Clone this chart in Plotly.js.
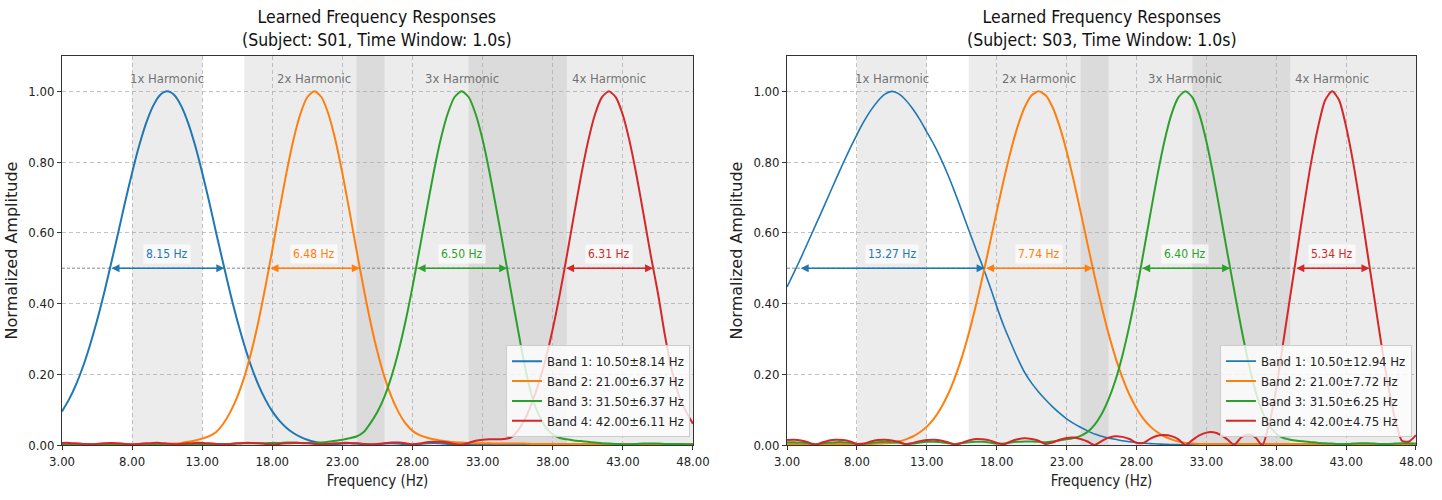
<!DOCTYPE html>
<html>
<head>
<meta charset="utf-8">
<script src="https://cdn.plot.ly/plotly-3.0.1.min.js"></script>
<style>
  html, body { margin: 0; padding: 0; background: #ffffff; }
  #chart { width: 1442px; height: 500px; }
</style>
</head>
<body>
<div id="chart"></div>
<script>
// frequency grid (Hz)
const freq = [
  3, 3.5, 4, 4.5, 5, 5.5, 6, 6.5, 7, 7.5,
  8, 8.5, 9, 9.5, 10, 10.5, 11, 11.5, 12, 12.5,
  13, 13.5, 14, 14.5, 15, 15.5, 16, 16.5, 17, 17.5,
  18, 18.5, 19, 19.5, 20, 20.5, 21, 21.5, 22, 22.5,
  23, 23.5, 24, 24.5, 25, 25.5, 26, 26.5, 27, 27.5,
  28, 28.5, 29, 29.5, 30, 30.5, 31, 31.5, 32, 32.5,
  33, 33.5, 34, 34.5, 35, 35.5, 36, 36.5, 37, 37.5,
  38, 38.5, 39, 39.5, 40, 40.5, 41, 41.5, 42, 42.5,
  43, 43.5, 44, 44.5, 45, 45.5, 46, 46.5, 47, 47.5,
  48,
];

const bandColors = ["#1f77b4", "#ff7f0e", "#2ca02c", "#d62728"];
const bandCenters = [10.5, 21.0, 31.5, 42.0];
const harmonicLabels = ["1x Harmonic", "2x Harmonic", "3x Harmonic", "4x Harmonic"];
const harmonicHalfWidths = [2.5, 5.0, 7.5, 10.0];
const xTicks = [3, 8, 13, 18, 23, 28, 33, 38, 43, 48];
const yTicks = [0, 0.2, 0.4, 0.6, 0.8, 1.0];

// Subject S01
const s01Band1 = [
  0.095, 0.129, 0.171, 0.222, 0.283, 0.352, 0.429, 0.513, 0.599, 0.687,
  0.770, 0.846, 0.910, 0.959, 0.990, 1.000, 0.990, 0.959, 0.910, 0.846,
  0.770, 0.687, 0.599, 0.513, 0.429, 0.352, 0.283, 0.222, 0.171, 0.129,
  0.095, 0.069, 0.049, 0.034, 0.023, 0.015, 0.009, 0.005, 0.003, 0.003,
  0.004, 0.005, 0.004, 0.003, 0.001, 0.002, 0.004, 0.005, 0.004, 0.002,
  0.001, 0.003, 0.005, 0.006, 0.005, 0.003, 0.001, 0.002, 0.003, 0.003,
  0.002, 0.001, 0.002, 0.003, 0.003, 0.002, 0.001, 0.002, 0.003, 0.003,
  0.002, 0.001, 0.002, 0.002, 0.002, 0.001, 0.001, 0.002, 0.002, 0.002,
  0.001, 0.001, 0.002, 0.002, 0.002, 0.001, 0.001, 0.002, 0.002, 0.001,
  0.001,
];
const s01Band2 = [
  0.002, 0.003, 0.003, 0.002, 0.001, 0.001, 0.002, 0.003, 0.003, 0.002,
  0.001, 0.002, 0.003, 0.003, 0.003, 0.003, 0.004, 0.006, 0.009, 0.013,
  0.018, 0.025, 0.037, 0.060, 0.093, 0.136, 0.192, 0.263, 0.348, 0.446,
  0.552, 0.662, 0.768, 0.862, 0.936, 0.984, 1.000, 0.984, 0.936, 0.862,
  0.768, 0.662, 0.552, 0.446, 0.348, 0.263, 0.192, 0.136, 0.093, 0.061,
  0.040, 0.028, 0.021, 0.016, 0.013, 0.010, 0.008, 0.007, 0.006, 0.005,
  0.005, 0.005, 0.004, 0.004, 0.004, 0.004, 0.004, 0.003, 0.003, 0.003,
  0.003, 0.003, 0.003, 0.003, 0.003, 0.003, 0.003, 0.003, 0.003, 0.003,
  0.003, 0.003, 0.003, 0.003, 0.003, 0.003, 0.003, 0.003, 0.003, 0.003,
  0.003,
];
const s01Band3 = [
  0.001, 0.001, 0.002, 0.002, 0.002, 0.001, 0.001, 0.002, 0.002, 0.002,
  0.001, 0.001, 0.002, 0.002, 0.002, 0.001, 0.001, 0.002, 0.003, 0.003,
  0.003, 0.002, 0.002, 0.003, 0.003, 0.004, 0.005, 0.005, 0.005, 0.005,
  0.006, 0.006, 0.007, 0.007, 0.006, 0.006, 0.006, 0.007, 0.009, 0.012,
  0.015, 0.019, 0.024, 0.036, 0.062, 0.094, 0.137, 0.194, 0.265, 0.350,
  0.448, 0.554, 0.663, 0.769, 0.863, 0.936, 0.984, 1.000, 0.984, 0.936,
  0.863, 0.769, 0.663, 0.554, 0.440, 0.330, 0.225, 0.140, 0.085, 0.050,
  0.030, 0.020, 0.016, 0.013, 0.011, 0.009, 0.007, 0.005, 0.004, 0.003,
  0.002, 0.002, 0.003, 0.004, 0.004, 0.004, 0.003, 0.003, 0.003, 0.002,
  0.002,
];
const s01Band4 = [
  0.006, 0.006, 0.005, 0.003, 0.002, 0.003, 0.005, 0.006, 0.005, 0.003,
  0.002, 0.003, 0.005, 0.006, 0.006, 0.004, 0.002, 0.003, 0.005, 0.006,
  0.006, 0.005, 0.003, 0.002, 0.003, 0.005, 0.006, 0.006, 0.005, 0.003,
  0.002, 0.003, 0.005, 0.006, 0.006, 0.005, 0.003, 0.002, 0.003, 0.005,
  0.006, 0.006, 0.005, 0.003, 0.002, 0.003, 0.005, 0.007, 0.007, 0.005,
  0.002, 0.004, 0.008, 0.009, 0.009, 0.007, 0.003, 0.001, 0.006, 0.012,
  0.015, 0.016, 0.016, 0.017, 0.021, 0.040, 0.072, 0.118, 0.175, 0.244,
  0.328, 0.426, 0.534, 0.647, 0.757, 0.855, 0.933, 0.983, 1.000, 0.983,
  0.933, 0.855, 0.757, 0.647, 0.534, 0.430, 0.310, 0.210, 0.140, 0.095,
  0.060,
];
const s01Sigma = [8.14, 6.37, 6.37, 6.11];
const s01Fwhm = [8.15, 6.48, 6.50, 6.31];

// Subject S03
const s03Band1 = [
  0.447, 0.488, 0.530, 0.574, 0.618, 0.662, 0.707, 0.752, 0.796, 0.838,
  0.878, 0.915, 0.947, 0.973, 0.992, 1.000, 0.993, 0.975, 0.950, 0.920,
  0.885, 0.850, 0.810, 0.765, 0.715, 0.662, 0.608, 0.555, 0.505, 0.450,
  0.392, 0.337, 0.290, 0.245, 0.205, 0.175, 0.150, 0.128, 0.108, 0.090,
  0.074, 0.061, 0.050, 0.040, 0.031, 0.025, 0.020, 0.016, 0.012, 0.009,
  0.007, 0.005, 0.004, 0.003, 0.002, 0.001, 0.001, 0.000, 0.001, 0.001,
  0.001, 0.001, 0.001, 0.001, 0.001, 0.001, 0.001, 0.001, 0.001, 0.001,
  0.001, 0.001, 0.001, 0.001, 0.001, 0.001, 0.001, 0.001, 0.001, 0.001,
  0.001, 0.001, 0.001, 0.001, 0.001, 0.001, 0.001, 0.001, 0.001, 0.001,
  0.001,
];
const s03Band2 = [
  0.003, 0.003, 0.002, 0.002, 0.001, 0.002, 0.003, 0.003, 0.003, 0.002,
  0.001, 0.002, 0.003, 0.004, 0.005, 0.006, 0.010, 0.016, 0.024, 0.036,
  0.052, 0.074, 0.104, 0.142, 0.190, 0.247, 0.315, 0.393, 0.478, 0.568,
  0.660, 0.749, 0.831, 0.901, 0.955, 0.989, 1.000, 0.989, 0.955, 0.901,
  0.831, 0.749, 0.660, 0.568, 0.478, 0.393, 0.315, 0.247, 0.190, 0.142,
  0.104, 0.074, 0.052, 0.036, 0.024, 0.016, 0.010, 0.006, 0.004, 0.003,
  0.003, 0.003, 0.003, 0.003, 0.003, 0.003, 0.003, 0.003, 0.003, 0.003,
  0.003, 0.003, 0.003, 0.003, 0.003, 0.003, 0.003, 0.003, 0.003, 0.003,
  0.003, 0.003, 0.003, 0.003, 0.003, 0.003, 0.003, 0.003, 0.003, 0.003,
  0.003,
];
const s03Band3 = [
  0.008, 0.008, 0.007, 0.005, 0.003, 0.004, 0.007, 0.008, 0.008, 0.006,
  0.003, 0.003, 0.006, 0.008, 0.009, 0.008, 0.006, 0.003, 0.004, 0.007,
  0.009, 0.009, 0.008, 0.005, 0.003, 0.005, 0.008, 0.009, 0.009, 0.007,
  0.004, 0.004, 0.007, 0.009, 0.010, 0.010, 0.009, 0.008, 0.010, 0.013,
  0.016, 0.020, 0.026, 0.037, 0.057, 0.087, 0.129, 0.184, 0.254, 0.339,
  0.436, 0.544, 0.655, 0.763, 0.859, 0.935, 0.983, 1.000, 0.983, 0.935,
  0.859, 0.763, 0.655, 0.544, 0.436, 0.330, 0.235, 0.155, 0.095, 0.055,
  0.032, 0.020, 0.015, 0.012, 0.010, 0.008, 0.006, 0.005, 0.004, 0.003,
  0.003, 0.004, 0.005, 0.005, 0.004, 0.003, 0.003, 0.004, 0.005, 0.005,
  0.004,
];
const s03Band4 = [
  0.014, 0.015, 0.013, 0.008, 0.000, 0.007, 0.013, 0.015, 0.014, 0.010,
  0.003, 0.004, 0.010, 0.014, 0.015, 0.013, 0.009, 0.002, 0.006, 0.011,
  0.014, 0.015, 0.013, 0.008, 0.001, 0.006, 0.013, 0.017, 0.016, 0.013,
  0.006, 0.002, 0.010, 0.016, 0.019, 0.017, 0.012, 0.003, 0.007, 0.015,
  0.020, 0.021, 0.017, 0.010, 0.000, 0.011, 0.021, 0.025, 0.023, 0.017,
  0.006, 0.006, 0.018, 0.026, 0.028, 0.025, 0.016, 0.000, 0.014, 0.027,
  0.035, 0.036, 0.029, 0.016, 0.001, 0.022, 0.030, 0.022, 0.000, 0.060,
  0.160, 0.290, 0.420, 0.550, 0.680, 0.800, 0.900, 0.975, 1.000, 0.975,
  0.900, 0.800, 0.680, 0.550, 0.420, 0.290, 0.170, 0.075, 0.012, 0.010,
  0.028,
];
const s03Sigma = [12.94, 7.72, 6.25, 4.75];
const s03Fwhm = [13.27, 7.74, 6.40, 5.34];

const FONT = "DejaVu Sans Condensed, Liberation Sans Narrow, DejaVu Sans, sans-serif";
const X_MAX = 48;

const panels = [
  { subject: "S01", bands: [s01Band1, s01Band2, s01Band3, s01Band4], sigma: s01Sigma, fwhm: s01Fwhm, widths: [2, 2, 2, 2] },
  { subject: "S03", bands: [s03Band1, s03Band2, s03Band3, s03Band4], sigma: s03Sigma, fwhm: s03Fwhm, widths: [1.6, 2, 2, 2] },
];

const traces = [];
const shapes = [];
const annotations = [];

panels.forEach((p, i) => {
  const xa = i === 0 ? "x" : "x2";
  const ya = i === 0 ? "y" : "y2";

  // harmonic spans
  bandCenters.forEach((c, k) => {
    shapes.push({
      type: "rect", layer: "below", xref: xa, yref: ya + " domain",
      x0: c - harmonicHalfWidths[k], x1: Math.min(c + harmonicHalfWidths[k], X_MAX),
      y0: 0, y1: 1,
      fillcolor: "rgba(128,128,128,0.15)", line: { width: 0 },
    });
    annotations.push({
      xref: xa, yref: ya, x: c, y: 1.035, text: harmonicLabels[k], showarrow: false,
      font: { family: FONT, size: 13, color: "rgba(90,90,90,0.85)" },
    });
  });

  shapes.push({
    type: "line", layer: "above", xref: xa + " domain", yref: ya, x0: 0, x1: 1, y0: 0.5, y1: 0.5,
    line: { color: "rgba(100,100,100,0.8)", width: 1, dash: "3px,2px" },
  });

  p.bands.forEach((vals, k) => {
    traces.push({
      x: freq, y: vals, type: "scatter", mode: "lines",
      name: `Band ${k + 1}: ${bandCenters[k].toFixed(2)}±${p.sigma[k].toFixed(2)} Hz`,
      line: { color: bandColors[k], width: p.widths[k], shape: "spline", smoothing: 0.7 },
      xaxis: xa, yaxis: ya, legend: i === 0 ? "legend" : "legend2",
      hoverinfo: "skip",
    });
    const half = p.fwhm[k] / 2;
    annotations.push({
      xref: xa, yref: ya, axref: xa, ayref: ya,
      x: bandCenters[k] + half, y: 0.5, ax: bandCenters[k] - half, ay: 0.5,
      text: "", showarrow: true, arrowside: "end+start",
      arrowhead: 2, startarrowhead: 2, arrowsize: 1, startarrowsize: 1,
      arrowwidth: 1.6, arrowcolor: bandColors[k],
    });
    annotations.push({
      xref: xa, yref: ya, x: bandCenters[k], y: 0.5, yshift: 14,
      text: `${p.fwhm[k].toFixed(2)} Hz`, showarrow: false,
      bgcolor: "rgba(255,255,255,0.7)", borderpad: 2,
      font: { family: FONT, size: 12, color: bandColors[k] },
    });
  });

  annotations.push({
    xref: xa + " domain", yref: ya + " domain", x: 0.5, y: 1, yanchor: "bottom", yshift: 4,
    text: `Learned Frequency Responses<br>(Subject: ${p.subject}, Time Window: 1.0s)`,
    showarrow: false, font: { family: FONT, size: 17.5, color: "#111" },
  });
});

function xAxis(domain, anchor) {
  return {
    domain, anchor, range: [3, X_MAX], tickvals: xTicks, tickformat: ".2f",
    ticks: "outside", ticklen: 4, tickcolor: "#333",
    showgrid: true, gridcolor: "rgba(170,170,170,0.7)", griddash: "4px,3px", gridwidth: 1,
    showline: true, mirror: true, linecolor: "#333", linewidth: 1, zeroline: false,
    tickfont: { family: FONT, size: 13, color: "#222" },
    title: { text: "Frequency (Hz)", standoff: 7, font: { family: FONT, size: 15, color: "#222" } },
  };
}
function yAxis(anchor) {
  return {
    anchor, range: [0, 1.1], tickvals: yTicks, tickformat: ".2f",
    ticks: "outside", ticklen: 4, tickcolor: "#333",
    showgrid: true, gridcolor: "rgba(170,170,170,0.7)", griddash: "4px,3px", gridwidth: 1,
    showline: true, mirror: true, linecolor: "#333", linewidth: 1, zeroline: false,
    tickfont: { family: FONT, size: 13, color: "#222" },
    title: { text: "Normalized Amplitude", standoff: 6, font: { family: "DejaVu Sans, sans-serif", size: 16, color: "#222" } },
  };
}

const legendStyle = {
  yanchor: "bottom", xanchor: "right", y: 0.02,
  bgcolor: "rgba(255,255,255,0.8)", bordercolor: "#cccccc", borderwidth: 1,
  font: { family: FONT, size: 13, color: "#222" },
};

const layout = {
  width: 1442, height: 500,
  margin: { l: 62, r: 26, t: 56, b: 55 },
  paper_bgcolor: "#ffffff", plot_bgcolor: "#ffffff",
  xaxis: xAxis([0, 0.466], "y"),
  yaxis: yAxis("x"),
  xaxis2: xAxis([0.5355, 1], "y2"),
  yaxis2: yAxis("x2"),
  legend: { ...legendStyle, x: 0.4638 },
  legend2: { ...legendStyle, x: 0.997 },
  shapes, annotations,
  showlegend: true,
};

Plotly.newPlot("chart", traces, layout, { displayModeBar: false, staticPlot: true });
</script>
</body>
</html>
